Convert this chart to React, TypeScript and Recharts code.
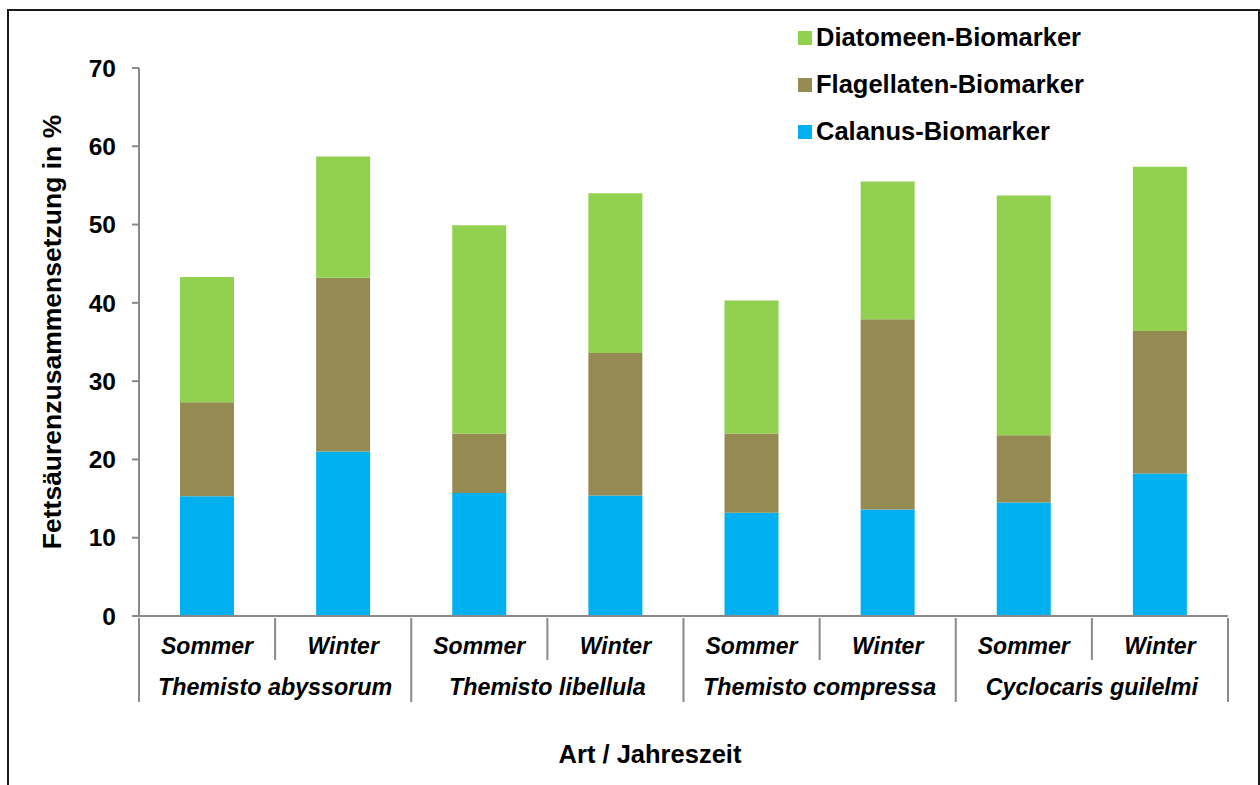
import { BarChart, Bar, XAxis, YAxis, Legend, Label } from "recharts";

const seasons = ["Sommer", "Winter", "Sommer", "Winter", "Sommer", "Winter", "Sommer", "Winter"];
const species = ["Themisto abyssorum", "Themisto libellula", "Themisto compressa", "Cyclocaris guilelmi"];
const calanus = [15.3, 21.0, 15.7, 15.4, 13.2, 13.6, 14.5, 18.2];
const flagellaten = [12.0, 22.2, 7.6, 18.2, 10.1, 24.3, 8.6, 18.2];
const diatomeen = [16.0, 15.5, 26.6, 20.4, 17.0, 17.6, 30.6, 21.0];
const yTicks = [0, 10, 20, 30, 40, 50, 60, 70];

const series = [
  { key: "calanus", name: "Calanus-Biomarker", color: "#00B0F0" },
  { key: "flagellaten", name: "Flagellaten-Biomarker", color: "#958B52" },
  { key: "diatomeen", name: "Diatomeen-Biomarker", color: "#92D050" },
];

const data = seasons.map((s, i) => ({
  id: i,
  season: s,
  calanus: calanus[i],
  flagellaten: flagellaten[i],
  diatomeen: diatomeen[i],
}));

const FONT = "'Liberation Sans', Arial, sans-serif";
const GRAY = "#898989";
const PLOT_LEFT = 139;
const PLOT_RIGHT = 1228;
const BAND = (PLOT_RIGHT - PLOT_LEFT) / seasons.length;

function SeasonTick(props: any) {
  const { x, y, index } = props;
  return (
    <g>
      <text
        x={x}
        y={y + 36}
        textAnchor="middle"
        fontFamily={FONT}
        fontSize={23}
        fontWeight="bold"
        fontStyle="italic"
        fill="#000"
      >
        {seasons[index]}
      </text>
      {index % 2 === 1 && (
        <line x1={x - BAND / 2} x2={x - BAND / 2} y1={y} y2={y + 42} stroke={GRAY} strokeWidth={2} />
      )}
    </g>
  );
}

function SpeciesTick(props: any) {
  const { x, y, index } = props;
  if (index % 2 === 1) {
    if (index !== seasons.length - 1) return <g />;
    return (
      <line x1={x + BAND / 2} x2={x + BAND / 2} y1={y - 42} y2={y + 42} stroke={GRAY} strokeWidth={2} />
    );
  }
  return (
    <g>
      <line x1={x - BAND / 2} x2={x - BAND / 2} y1={y - 42} y2={y + 42} stroke={GRAY} strokeWidth={2} />
      <text
        x={x + BAND / 2}
        y={y + 35}
        textAnchor="middle"
        fontFamily={FONT}
        fontSize={23.3}
        fontWeight="bold"
        fontStyle="italic"
        fill="#000"
      >
        {species[index / 2]}
      </text>
    </g>
  );
}

function LegendBox() {
  return (
    <div style={{ fontFamily: FONT }}>
      {[...series].reverse().map((s) => (
        <div key={s.key} style={{ display: "flex", alignItems: "center", height: 47 }}>
          <div style={{ width: 14, height: 14, background: s.color, marginRight: 4 }} />
          <span style={{ fontSize: 25.5, fontWeight: "bold", color: "#000" }}>{s.name}</span>
        </div>
      ))}
    </div>
  );
}

export default function App() {
  return (
    <div style={{ position: "absolute", left: 0, top: 0, width: 1260, height: 785, background: "#fff", overflow: "hidden" }}>
      <div
        style={{
          position: "absolute",
          left: 7,
          top: 9,
          width: 1249,
          height: 820,
          border: "2px solid #1a1a1a",
        }}
      />
      <div style={{ position: "absolute", left: 0, top: 0 }}>
        <BarChart
          width={1260}
          height={785}
          data={data}
          margin={{ top: 68, right: 1260 - PLOT_RIGHT, bottom: 43, left: 79 }}
          barSize={54}
        >
          <XAxis
            dataKey="id"
            height={42}
            interval={0}
            tickSize={0}
            tickLine={false}
            axisLine={{ stroke: GRAY, strokeWidth: 2 }}
            tick={<SeasonTick />}
          />
          <XAxis
            xAxisId="sp"
            dataKey="id"
            height={84}
            interval={0}
            tickSize={0}
            tickLine={false}
            axisLine={false}
            tick={<SpeciesTick />}
          >
            <Label
              content={() => (
                <text x={650} y={763} textAnchor="middle" fontFamily={FONT} fontSize={25.5} fontWeight="bold" fill="#000">
                  Art / Jahreszeit
                </text>
              )}
            />
          </XAxis>
          <YAxis
            width={60}
            domain={[0, 70]}
            ticks={yTicks}
            interval={0}
            tickSize={7}
            tickMargin={16}
            axisLine={{ stroke: GRAY, strokeWidth: 2 }}
            tickLine={{ stroke: GRAY, strokeWidth: 2 }}
            tick={{ fontFamily: FONT, fontSize: 24.5, fontWeight: "bold", fill: "#000" }}
          >
            <Label
              content={() => (
                <text
                  x={61}
                  y={332}
                  transform="rotate(-90 61 332)"
                  textAnchor="middle"
                  fontFamily={FONT}
                  fontSize={26.5}
                  fontWeight="bold"
                  fill="#000"
                >
                  Fettsäurenzusammensetzung in %
                </text>
              )}
            />
          </YAxis>
          <Legend
            layout="horizontal"
            verticalAlign="middle"
            align="center"
            content={<LegendBox />}
            wrapperStyle={{ left: 798, top: 14, width: 440, height: 141 }}
          />
          {series.map((s) => (
            <Bar key={s.key} dataKey={s.key} name={s.name} stackId="a" fill={s.color} isAnimationActive={false} />
          ))}
        </BarChart>
      </div>
    </div>
  );
}
